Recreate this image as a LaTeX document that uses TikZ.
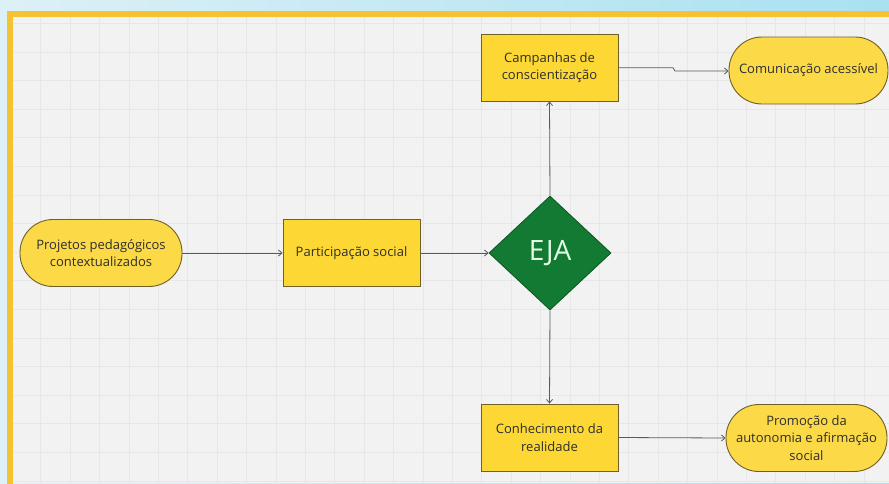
\documentclass[tikz,border=0pt]{standalone}
\usepackage{fontspec}
\setmainfont{Open Sans}
\usetikzlibrary{shapes.geometric,arrows.meta}
\definecolor{skyA}{HTML}{DDF0F6}
\definecolor{skyB}{HTML}{A9E1F1}
\definecolor{paper}{HTML}{F2F2F2}
\definecolor{gridc}{HTML}{E7E7E7}
\definecolor{frameY}{HTML}{F5C331}
\definecolor{boxY}{HTML}{FDD835}
\definecolor{pillY}{HTML}{FCD947}
\definecolor{edgeY}{HTML}{6E6028}
\definecolor{greenD}{HTML}{127A33}
\definecolor{greenE}{HTML}{0C5A24}
\definecolor{txt}{HTML}{2E2E2E}
\definecolor{arr}{HTML}{5A5A5A}
\tikzset{
  boxnode/.style={draw=edgeY, line width=0.9pt, fill=boxY, rectangle, minimum width=137pt, minimum height=67pt, align=center, text=txt, font=\fontsize{13}{17.5}\selectfont, inner sep=2pt},
  pillnode/.style={draw=edgeY, line width=0.9pt, fill=pillY, rectangle, rounded corners=33pt, minimum height=67pt, align=center, text=txt, font=\fontsize{13}{17.5}\selectfont, inner sep=2pt},
  diamondnode/.style={draw=greenE, line width=0.9pt, fill=greenD, diamond, minimum width=122pt, minimum height=114pt, text=white!90!green, font=\fontsize{28}{30}\selectfont, inner sep=0pt},
  link/.style={draw=arr, line width=0.8pt, -{Straight Barb[length=3.5pt,width=6pt]}}
}
\begin{document}
\begin{tikzpicture}[x=1pt,y=-1pt]
\useasboundingbox (0,0) rectangle (889,483);
\shade[left color=skyA, right color=skyB] (0,0) rectangle (889,483);
\fill[paper] (10,14) rectangle (889,483);
\begin{scope}
\clip (13,17) rectangle (889,483);
\foreach \i in {0,...,30} {\draw[gridc, line width=0.7pt] ({40.7+29.4*\i},17) -- ({40.7+29.4*\i},483);}
\foreach \j in {-1,...,16} {\draw[gridc, line width=0.7pt] (13,{52+28.6*\j}) -- (889,{52+28.6*\j});}
\end{scope}
\draw[frameY, line width=6pt] (10,490) -- (10,14) -- (895,14);

\node[pillnode, minimum width=162pt] (proj) at (101,253) {Projetos pedagógicos\\contextualizados};
\node[boxnode] (part) at (351.5,253) {Participação social};
\node[diamondnode] (eja) at (550,253) {EJA};
\node[boxnode] (camp) at (549.5,67.5) {Campanhas de\\conscientização};
\node[pillnode, minimum width=159pt] (comu) at (808.5,70.5) {Comunicação acessível};
\node[boxnode] (conh) at (549.5,437.5) {Conhecimento da\\realidade};
\node[pillnode, minimum width=161pt] (prom) at (806.5,438) {Promoção da\\autonomia e afirmação\\social};

\coordinate (j1) at (673,67.7);
\coordinate (j2) at (675,71);
\draw[link] (proj.east) -- (part.west);
\draw[link] (part.east) -- (eja.west);
\draw[link] (eja.north) -- (camp.south);
\draw[link] (eja.south) -- (conh.north);
\draw[link] (camp.east |- j1) -- (j1) -- (j2) -- (comu.west |- j2);
\draw[link] (conh.east) -- (prom.west);
\end{tikzpicture}
\end{document}
